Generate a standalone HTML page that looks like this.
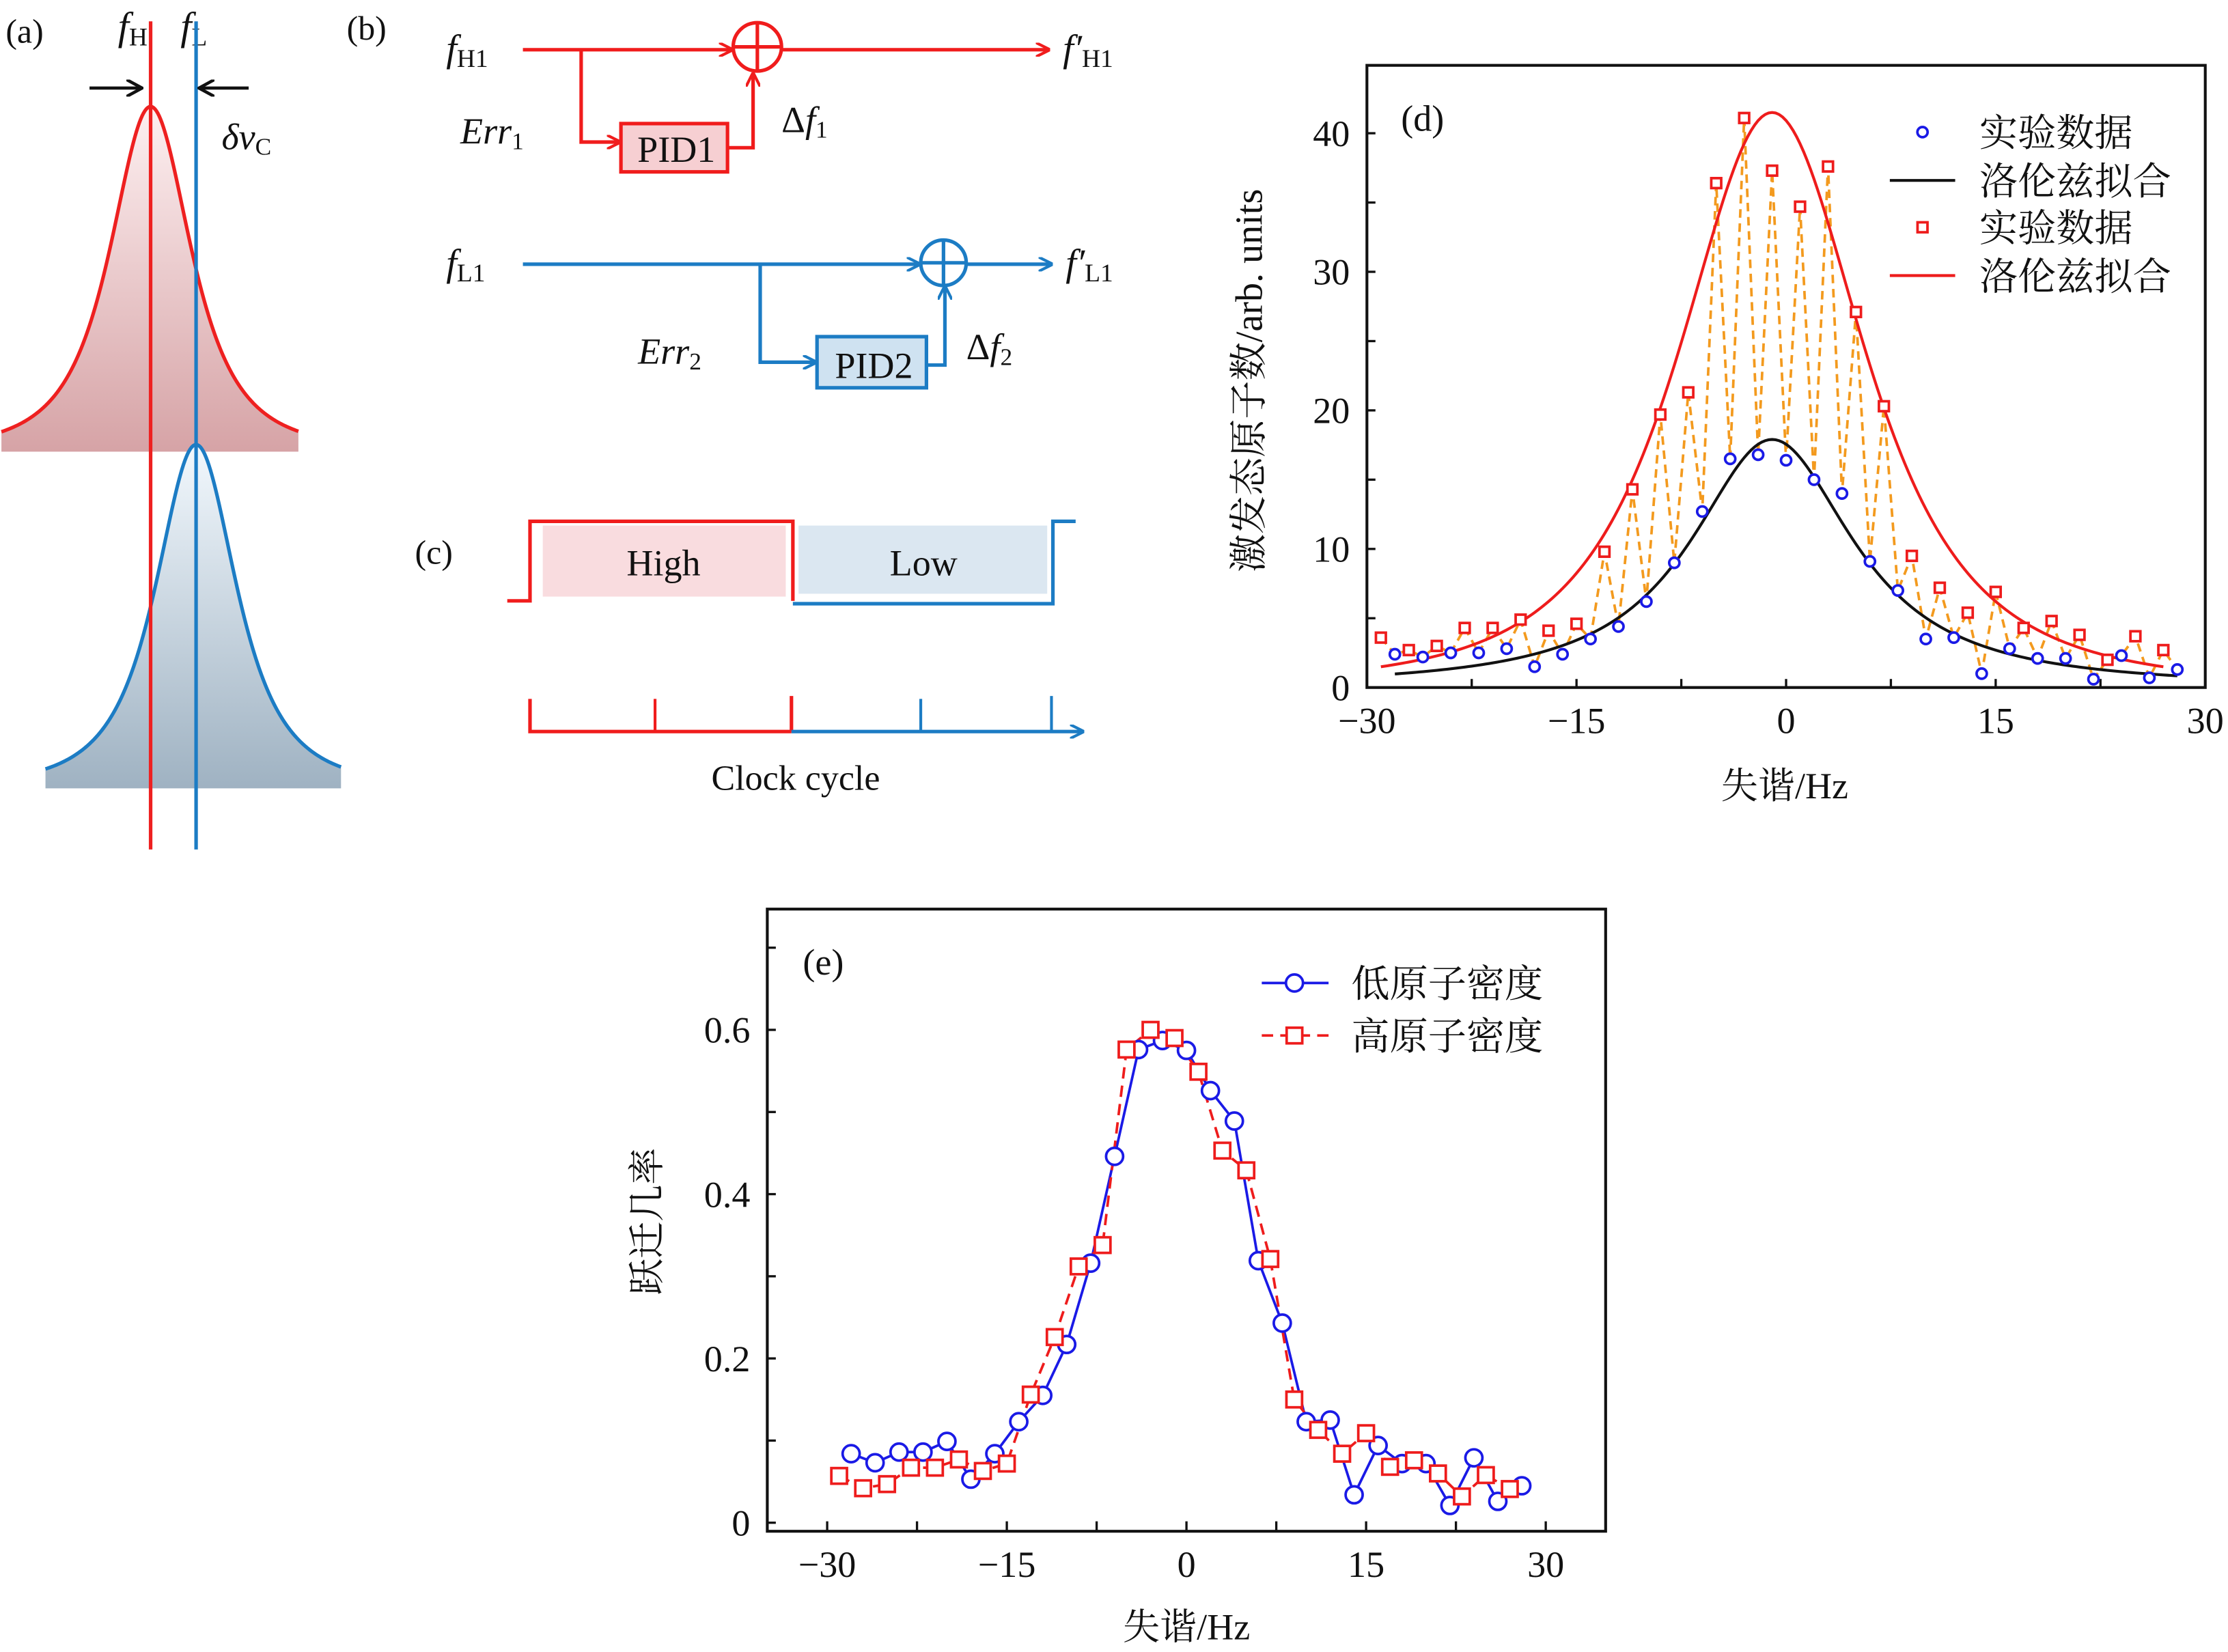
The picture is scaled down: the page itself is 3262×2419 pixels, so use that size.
<!DOCTYPE html>
<html><head><meta charset="utf-8">
<style>
html,body{margin:0;padding:0;background:#fff;}
svg{display:block;}
text{font-family:"Liberation Serif","Noto Serif CJK SC",serif;fill:#111;}
.it{font-style:italic;}
</style></head>
<body>
<svg id="fig" width="3262" height="2419" viewBox="0 0 1568 1163" preserveAspectRatio="none" xmlns="http://www.w3.org/2000/svg">
<defs>
<linearGradient id="gr" x1="0" y1="0" x2="0" y2="1"><stop offset="0" stop-color="#fdf0f1"/><stop offset="1" stop-color="#d6a3a6"/></linearGradient>
<linearGradient id="gb" x1="0" y1="0" x2="0" y2="1"><stop offset="0" stop-color="#f2f8fd"/><stop offset="1" stop-color="#9fb2c2"/></linearGradient>
<marker id="ar" markerWidth="10" markerHeight="10" refX="9" refY="5" orient="auto" markerUnits="userSpaceOnUse"><path d="M0,0 L10,5 L0,10" fill="none" stroke="#f01c1c" stroke-width="2"/></marker>
<marker id="ab" markerWidth="10" markerHeight="10" refX="9" refY="5" orient="auto" markerUnits="userSpaceOnUse"><path d="M0,0 L10,5 L0,10" fill="none" stroke="#1c7cc4" stroke-width="2"/></marker>
<marker id="ak" markerWidth="12" markerHeight="12" refX="10" refY="6" orient="auto" markerUnits="userSpaceOnUse"><path d="M0,0 L11,6 L0,12" fill="none" stroke="#111" stroke-width="2.2"/></marker>
</defs>

<g>
<text x="4" y="30" font-size="24">(a)</text>
<text x="83" y="28" font-size="28" class="it">f<tspan font-size="18" font-style="normal" dy="4">H</tspan></text>
<text x="127" y="28" font-size="28" class="it">f<tspan font-size="18" font-style="normal" dy="4">L</tspan></text>
<path id="peakRf" fill="url(#gr)" stroke="none"/>
<path id="peakRs" fill="none" stroke="#ee2020" stroke-width="2.5"/>
<path id="peakBf" fill="url(#gb)" stroke="none"/>
<path id="peakBs" fill="none" stroke="#1c7cc4" stroke-width="2.5"/>
<line x1="106" y1="15" x2="106" y2="598" stroke="#ee2020" stroke-width="2.5"/>
<line x1="138" y1="15" x2="138" y2="598" stroke="#1c7cc4" stroke-width="2.5"/>
<line x1="63" y1="62" x2="99" y2="62" stroke="#111" stroke-width="2.2" marker-end="url(#ak)"/>
<line x1="175" y1="62" x2="141" y2="62" stroke="#111" stroke-width="2.2" marker-end="url(#ak)"/>
<text x="156" y="105" font-size="26" class="it">δv<tspan font-size="17" font-style="normal" dy="4">C</tspan></text>
</g>

<g>
<text x="244" y="28" font-size="24">(b)</text>
<text x="314" y="43" font-size="27" class="it">f<tspan font-size="18" font-style="normal" dy="4">H1</tspan></text>
<line x1="368" y1="35" x2="515" y2="35" stroke="#f01c1c" stroke-width="2.5" marker-end="url(#ar)"/>
<circle cx="533" cy="33" r="17" fill="none" stroke="#f01c1c" stroke-width="2.5"/>
<line x1="516" y1="33" x2="550" y2="33" stroke="#f01c1c" stroke-width="2.5"/><line x1="533" y1="16" x2="533" y2="50" stroke="#f01c1c" stroke-width="2.5"/>
<line x1="550" y1="35" x2="738" y2="35" stroke="#f01c1c" stroke-width="2.5" marker-end="url(#ar)"/>
<text x="748" y="43" font-size="27" class="it">f′<tspan font-size="18" font-style="normal" dy="4">H1</tspan></text>
<polyline points="409,35 409,100 436,100" fill="none" stroke="#f01c1c" stroke-width="2.5" marker-end="url(#ar)"/>
<rect x="437" y="87" width="75" height="34" fill="#f6cfd2" stroke="#f01c1c" stroke-width="2.5"/>
<text x="476" y="114" font-size="26" text-anchor="middle">PID1</text>
<polyline points="512,104 530,104 530,52" fill="none" stroke="#f01c1c" stroke-width="2.5" marker-end="url(#ar)"/>
<text x="324" y="101" font-size="26" class="it">Err<tspan font-size="17" font-style="normal" dy="4">1</tspan></text>
<text x="550" y="93" font-size="26">Δ<tspan class="it">f</tspan><tspan font-size="17" dy="4">1</tspan></text>

<text x="314" y="194" font-size="27" class="it">f<tspan font-size="18" font-style="normal" dy="4">L1</tspan></text>
<line x1="368" y1="186" x2="647" y2="186" stroke="#1c7cc4" stroke-width="2.5" marker-end="url(#ab)"/>
<circle cx="664" cy="185" r="16" fill="none" stroke="#1c7cc4" stroke-width="2.5"/>
<line x1="648" y1="185" x2="680" y2="185" stroke="#1c7cc4" stroke-width="2.5"/><line x1="664" y1="169" x2="664" y2="201" stroke="#1c7cc4" stroke-width="2.5"/>
<line x1="680" y1="186" x2="740" y2="186" stroke="#1c7cc4" stroke-width="2.5" marker-end="url(#ab)"/>
<text x="750" y="194" font-size="27" class="it">f′<tspan font-size="18" font-style="normal" dy="4">L1</tspan></text>
<polyline points="535,186 535,255 574,255" fill="none" stroke="#1c7cc4" stroke-width="2.5" marker-end="url(#ab)"/>
<rect x="575" y="237" width="77" height="36" fill="#cfe2f1" stroke="#1c7cc4" stroke-width="2.5"/>
<text x="615" y="266" font-size="26" text-anchor="middle">PID2</text>
<polyline points="652,257 665,257 665,202" fill="none" stroke="#1c7cc4" stroke-width="2.5" marker-end="url(#ab)"/>
<text x="449" y="256" font-size="26" class="it">Err<tspan font-size="17" font-style="normal" dy="4">2</tspan></text>
<text x="680" y="253" font-size="26">Δ<tspan class="it">f</tspan><tspan font-size="17" dy="4">2</tspan></text>
</g>

<g>
<text x="292" y="397" font-size="24">(c)</text>
<rect x="382" y="370" width="171" height="50" fill="#f9dcdf"/>
<rect x="562" y="370" width="175" height="48" fill="#dbe7f1"/>
<polyline points="357,423 373,423 373,367 558,367 558,423" fill="none" stroke="#f01c1c" stroke-width="2.5"/>
<polyline points="558,425 741,425 741,367 757,367" fill="none" stroke="#1c7cc4" stroke-width="2.5"/>
<text x="467" y="405" font-size="26" text-anchor="middle">High</text>
<text x="650" y="405" font-size="26" text-anchor="middle">Low</text>
<polyline points="373,492 373,515 557,515" fill="none" stroke="#f01c1c" stroke-width="2.5"/>
<line x1="461" y1="492" x2="461" y2="515" stroke="#f01c1c" stroke-width="2"/>
<line x1="557" y1="490" x2="557" y2="515" stroke="#f01c1c" stroke-width="2.5"/>
<line x1="557" y1="515" x2="762" y2="515" stroke="#1c7cc4" stroke-width="2.5" marker-end="url(#ab)"/>
<line x1="648" y1="492" x2="648" y2="515" stroke="#1c7cc4" stroke-width="2"/>
<line x1="740" y1="490" x2="740" y2="515" stroke="#1c7cc4" stroke-width="2"/>
<text x="560" y="556" font-size="25" text-anchor="middle">Clock cycle</text>
</g>

<g id="chartD"></g>
<g id="chartE"></g>
</svg>

<script>
// ---------- Panel d data ----------
const dBlueX = [-28,-26,-24,-22,-20,-18,-16,-14,-12,-10,-8,-6,-4,-2,0,2,4,6,8,10,12,14,16,18,20,22,24,26,28];
const dBlueY = [2.4,2.2,2.5,2.5,2.8,1.5,2.4,3.5,4.4,6.2,9.0,12.7,16.5,16.8,16.4,15.0,14.0,9.1,7.0,3.5,3.6,1.0,2.8,2.1,2.1,0.6,2.3,0.7,1.3];
const dRedX = [-29,-27,-25,-23,-21,-19,-17,-15,-13,-11,-9,-7,-5,-3,-1,1,3,5,7,9,11,13,15,17,19,21,23,25,27];
const dRedY = [3.6,2.7,3.0,4.3,4.3,4.9,4.1,4.6,9.8,14.3,19.7,21.3,36.4,41.1,37.3,34.7,37.6,27.1,20.3,9.5,7.2,5.4,6.9,4.3,4.8,3.8,2.0,3.7,2.7];
// fit params: [amplitude, center, width, power, xStart, xEnd]
const dBlackFit = [17.9,-1,7.47,1.1,-28,28];
const dRedFit = [41.5,-1,10.6,1.6,-29,27];
const dXTicks = [-30,-15,0,15,30];
const dXTickLabels = ["−30","−15","0","15","30"];
const dYTicks = [0,10,20,30,40];
const dYTickLabels = ["0","10","20","30","40"];

// ---------- Panel e data ----------
const eLowX = [-28,-26,-24,-22,-20,-18,-16,-14,-12,-10,-8,-6,-4,-2,0,2,4,6,8,10,12,14,16,18,20,22,24,26,28];
const eLowY = [0.084,0.073,0.086,0.086,0.099,0.053,0.084,0.123,0.155,0.217,0.316,0.446,0.576,0.587,0.575,0.526,0.489,0.319,0.243,0.123,0.125,0.034,0.094,0.072,0.072,0.021,0.079,0.026,0.045];
const eHighX = [-29,-27,-25,-23,-21,-19,-17,-15,-13,-11,-9,-7,-5,-3,-1,1,3,5,7,9,11,13,15,17,19,21,23,25,27];
const eHighY = [0.057,0.042,0.047,0.067,0.067,0.077,0.063,0.072,0.156,0.226,0.312,0.338,0.576,0.600,0.590,0.549,0.453,0.429,0.321,0.150,0.113,0.084,0.109,0.068,0.076,0.060,0.032,0.058,0.041];
const eXTicks = [-30,-15,0,15,30];
const eXTickLabels = ["−30","−15","0","15","30"];
const eYTicks = [0,0.2,0.4,0.6];
const eYTickLabels = ["0","0.2","0.4","0.6"];

const NS = "http://www.w3.org/2000/svg";
function mk(parent, tag, attrs){ const e=document.createElementNS(NS,tag); for(const k in attrs) e.setAttribute(k,attrs[k]); parent.appendChild(e); return e; }

function peakCurve(cx, base, h, g, p, x0, x1){
  let d="";
  for(let x=x0;x<=x1;x+=1){ const u=(x-cx)/g; const y=base-h/Math.pow(1+u*u,p); d+=(d?" L":"M")+x+","+y.toFixed(2); }
  return d;
}
const cR=peakCurve(106,318,243,44,1.5,1,210), cB=peakCurve(138,555,242,44,1.5,32,240);
document.getElementById('peakRs').setAttribute('d',cR);
document.getElementById('peakRf').setAttribute('d',cR+" L210,318 L1,318 Z");
document.getElementById('peakBs').setAttribute('d',cB);
document.getElementById('peakBf').setAttribute('d',cB+" L240,555 L32,555 Z");

(function(){
  const g=document.getElementById('chartD');
  const L=962,R=1552,T=46,B=484, xmin=-30,xmax=30,ymin=0,ymax=44.9;
  const X=v=>L+(v-xmin)/(xmax-xmin)*(R-L);
  const Y=v=>B-(v-ymin)/(ymax-ymin)*(B-T);
  const frame=mk(g,'rect',{x:L,y:T,width:R-L,height:B-T,fill:'none',stroke:'#111','stroke-width':2});
  
  
  for(let v=-22.5; v<=22.5; v+=7.5){ mk(g,'line',{x1:X(v),y1:B,x2:X(v),y2:B-6,stroke:'#111','stroke-width':1.6}); }
  for(let v=5; v<ymax; v+=5){ mk(g,'line',{x1:L,y1:Y(v),x2:L+6,y2:Y(v),stroke:'#111','stroke-width':1.6}); }
  dXTicks.forEach((v,i)=>{ const t=mk(g,'text',{x:X(v),y:B+32,'font-size':26,'text-anchor':'middle'}); t.textContent=dXTickLabels[i];
    
     });
  dYTicks.forEach((v,i)=>{ const t=mk(g,'text',{x:L-12,y:Y(v)+9,'font-size':26,'text-anchor':'end'}); t.textContent=dYTickLabels[i];
    
     });
  const all=[]; dBlueX.forEach((x,i)=>all.push([x,dBlueY[i]])); dRedX.forEach((x,i)=>all.push([x,dRedY[i]])); all.sort((a,b)=>a[0]-b[0]);
  const ol=mk(g,'polyline',{points:all.map(p=>X(p[0])+','+Y(p[1])).join(' '),fill:'none',stroke:'#f39a1e','stroke-width':1.8,'stroke-dasharray':'6,4'});
  
  
  function fit(p){ let pts=[]; for(let x=p[4];x<=p[5]+1e-9;x+=0.25){ const u=(x-p[1])/p[2]; pts.push(X(x)+','+Y(p[0]/Math.pow(1+u*u,p[3]))); } return pts.join(' '); }
  const bf=mk(g,'polyline',{points:fit(dBlackFit),fill:'none',stroke:'#111','stroke-width':2});
  
  
  const rf=mk(g,'polyline',{points:fit(dRedFit),fill:'none',stroke:'#ee1c1c','stroke-width':2});
  
  
  dBlueX.forEach((x,i)=>{ const c=mk(g,'circle',{cx:X(x),cy:Y(dBlueY[i]),r:3.6,fill:'#fff',stroke:'#1a1ae6','stroke-width':1.8});
    
     });
  dRedX.forEach((x,i)=>{ const s=mk(g,'rect',{x:X(x)-3.5,y:Y(dRedY[i])-3.5,width:7,height:7,fill:'#fff',stroke:'#ee1c1c','stroke-width':1.8});
    
     });
  const pl=mk(g,'text',{x:986,y:92,'font-size':26}); pl.textContent='(d)';
  
  
  const xl=mk(g,'text',{x:1256,y:562,'font-size':26,'text-anchor':'middle'}); xl.textContent='失谐/Hz';
  
  
  const yl=mk(g,'text',{x:0,y:0,'font-size':27,'text-anchor':'middle',transform:'translate(888,268) rotate(-90)'}); yl.textContent='激发态原子数/arb. units';
  
  
  const lg=mk(g,'g',{});  
  mk(lg,'circle',{cx:1353,cy:93,r:3.6,fill:'#fff',stroke:'#1a1ae6','stroke-width':1.8});
  mk(lg,'line',{x1:1330,y1:127,x2:1376,y2:127,stroke:'#111','stroke-width':2});
  mk(lg,'rect',{x:1349.5,y:156.5,width:7,height:7,fill:'#fff',stroke:'#ee1c1c','stroke-width':1.8});
  mk(lg,'line',{x1:1330,y1:194,x2:1376,y2:194,stroke:'#ee1c1c','stroke-width':2});
  ['实验数据','洛伦兹拟合','实验数据','洛伦兹拟合'].forEach((s,i)=>{ const t=mk(lg,'text',{x:1393,y:[103,137,170,204][i],'font-size':27}); t.textContent=s;
    
     });
})();

(function(){
  const g=document.getElementById('chartE');
  const L=540,R=1130,T=640,B=1078, xmin=-35,xmax=35,ymin=-0.0104,ymax=0.747;
  const X=v=>L+(v-xmin)/(xmax-xmin)*(R-L);
  const Y=v=>B-(v-ymin)/(ymax-ymin)*(B-T);
  const frame=mk(g,'rect',{x:L,y:T,width:R-L,height:B-T,fill:'none',stroke:'#111','stroke-width':2});
  
  
  for(let v=-30; v<=30.01; v+=7.5){ mk(g,'line',{x1:X(v),y1:B,x2:X(v),y2:B-7,stroke:'#111','stroke-width':1.6}); }
  for(let v=0; v<=0.7001; v+=0.1){ mk(g,'line',{x1:L,y1:Y(v),x2:L+6,y2:Y(v),stroke:'#111','stroke-width':1.6}); }
  eXTicks.forEach((v,i)=>{ const t=mk(g,'text',{x:X(v),y:B+32,'font-size':26,'text-anchor':'middle'}); t.textContent=eXTickLabels[i];
    
     });
  eYTicks.forEach((v,i)=>{ const t=mk(g,'text',{x:L-12,y:Y(v)+9,'font-size':26,'text-anchor':'end'}); t.textContent=eYTickLabels[i];
    
     });
  const lo=mk(g,'polyline',{points:eLowX.map((x,i)=>X(x)+','+Y(eLowY[i])).join(' '),fill:'none',stroke:'#1a1ae6','stroke-width':1.8});
  
  
  const hi=mk(g,'polyline',{points:eHighX.map((x,i)=>X(x)+','+Y(eHighY[i])).join(' '),fill:'none',stroke:'#ee1c1c','stroke-width':1.8,'stroke-dasharray':'8,5'});
  
  
  eLowX.forEach((x,i)=>{ const c=mk(g,'circle',{cx:X(x),cy:Y(eLowY[i]),r:6,fill:'#fff',stroke:'#1a1ae6','stroke-width':1.8});
    
     });
  eHighX.forEach((x,i)=>{ const s=mk(g,'rect',{x:X(x)-5.5,y:Y(eHighY[i])-5.5,width:11,height:11,fill:'#fff',stroke:'#ee1c1c','stroke-width':1.8});
    
     });
  const pl=mk(g,'text',{x:565,y:686,'font-size':26}); pl.textContent='(e)';
  
  
  const xl=mk(g,'text',{x:835,y:1154,'font-size':26,'text-anchor':'middle'}); xl.textContent='失谐/Hz';
  
  
  const yl=mk(g,'text',{x:0,y:0,'font-size':26,'text-anchor':'middle',transform:'translate(464,860) rotate(-90)'}); yl.textContent='跃迁几率';
  
  
  const lg=mk(g,'g',{});  
  mk(lg,'line',{x1:888,y1:692,x2:935,y2:692,stroke:'#1a1ae6','stroke-width':1.8});
  mk(lg,'circle',{cx:911,cy:692,r:6,fill:'#fff',stroke:'#1a1ae6','stroke-width':1.8});
  mk(lg,'line',{x1:888,y1:729,x2:935,y2:729,stroke:'#ee1c1c','stroke-width':1.8,'stroke-dasharray':'8,5'});
  mk(lg,'rect',{x:905.5,y:723.5,width:11,height:11,fill:'#fff',stroke:'#ee1c1c','stroke-width':1.8});
  ['低原子密度','高原子密度'].forEach((s,i)=>{ const t=mk(lg,'text',{x:951,y:[702,739][i],'font-size':27}); t.textContent=s;
    
     });
})();
</script>
</body></html>
